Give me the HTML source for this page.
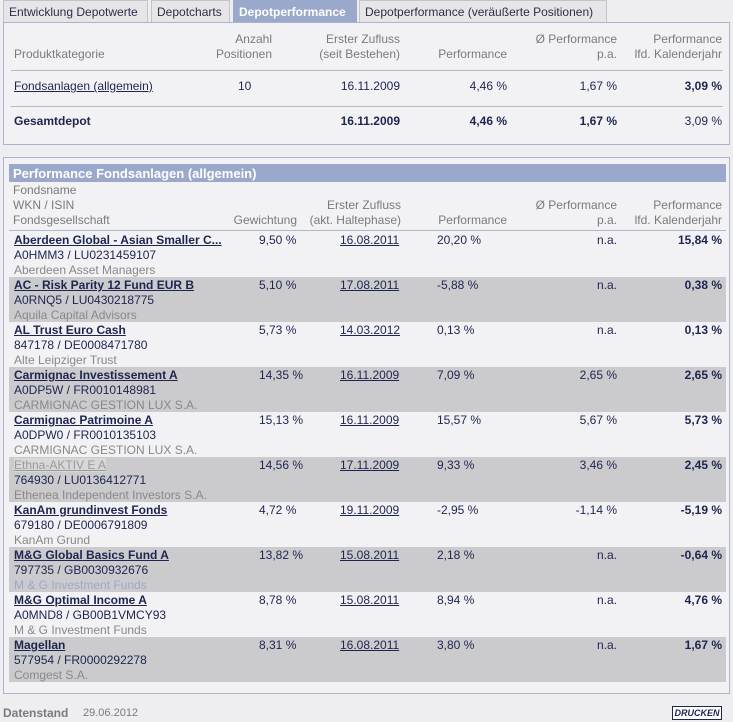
<!DOCTYPE html>
<html><head><meta charset="utf-8"><style>
*{box-sizing:border-box;margin:0;padding:0}
body{width:733px;height:722px;background:#eeeef1;font-family:"Liberation Sans",Arial,sans-serif;font-size:12px;color:#1d2550;position:relative;overflow:hidden}
.tab{position:absolute;top:0;height:22px;border:1px solid #c4c4c8;border-bottom:none;background:#e6e6e8;color:#2b2f45;padding:4px 5px 0;font-size:12px;white-space:nowrap}
.tab.act{background:#9aa8cc;color:#fff;font-weight:bold;border-color:#9aa8cc}
.box{position:absolute;left:3px;width:727px;border:1px solid #a9b4cc;background:#f2f2f4}
.t{position:absolute;white-space:nowrap;line-height:15px}
.h{color:#7a7a7a}
.r{text-align:right}
a{color:#1d2550;text-decoration:underline}
.b{font-weight:bold}
.row{position:absolute;left:9px;width:717px;height:45px}
.g{color:#888}
</style></head><body>
<div class="tab" style="left:3px;width:145px">Entwicklung Depotwerte</div>
<div class="tab" style="left:151px;width:79px">Depotcharts</div>
<div class="tab act" style="left:233px;width:124px">Depotperformance</div>
<div class="tab" style="left:359px;width:248px">Depotperformance (veräußerte Positionen)</div>

<div class="box" style="top:22px;height:123px">
<div class="t h" style="left:10px;top:24px">Produktkategorie</div>
<div class="t h r" style="right:457px;top:9px">Anzahl<br>Positionen</div>
<div class="t h r" style="right:329px;top:9px">Erster Zufluss<br>(seit Bestehen)</div>
<div class="t h r" style="right:222px;top:24px">Performance</div>
<div class="t h r" style="right:112px;top:9px">Ø Performance<br>p.a.</div>
<div class="t h r" style="right:7px;top:9px">Performance<br>lfd. Kalenderjahr</div>
<div style="position:absolute;left:7px;right:6px;top:47px;border-top:1px solid #b0b8cc"></div>
<div class="t" style="left:10px;top:56px"><a>Fondsanlagen (allgemein)</a></div>
<div class="t" style="left:234px;top:56px">10</div>
<div class="t r" style="right:329px;top:56px">16.11.2009</div>
<div class="t r" style="right:222px;top:56px">4,46 %</div>
<div class="t r" style="right:112px;top:56px">1,67 %</div>
<div class="t r b" style="right:7px;top:56px">3,09 %</div>
<div style="position:absolute;left:7px;right:6px;top:83px;border-top:1px solid #b0b8cc"></div>
<div class="t b" style="left:10px;top:91px">Gesamtdepot</div>
<div class="t r b" style="right:329px;top:91px">16.11.2009</div>
<div class="t r b" style="right:222px;top:91px">4,46 %</div>
<div class="t r b" style="right:112px;top:91px">1,67 %</div>
<div class="t r" style="right:7px;top:91px">3,09 %</div>
</div>

<div class="box" style="top:157px;height:537px"></div>
<div style="position:absolute;left:9px;top:164px;width:717px;height:18px;background:#9aa8cc;color:#fff;font-weight:bold;font-size:13px;padding:2px 0 0 4px">Performance Fondsanlagen (allgemein)</div>
<div class="t h" style="left:13px;top:183px">Fondsname<br>WKN / ISIN<br>Fondsgesellschaft</div>
<div class="t h r" style="right:436px;top:213px">Gewichtung</div>
<div class="t h r" style="right:332px;top:198px">Erster Zufluss<br>(akt. Haltephase)</div>
<div class="t h r" style="right:226px;top:213px">Performance</div>
<div class="t h r" style="right:116px;top:198px">Ø Performance<br>p.a.</div>
<div class="t h r" style="right:11px;top:198px">Performance<br>lfd. Kalenderjahr</div>
<div style="position:absolute;left:9px;width:717px;top:230px;border-top:1px solid #b0b8cc"></div>
<div id="rows"></div>

<div class="t b" style="left:3px;top:706px;color:#7a7a7a">Datenstand</div>
<div class="t" style="left:83px;top:706px;color:#7a7a7a;font-size:11px">29.06.2012</div>
<div style="position:absolute;left:672px;top:706px;width:50px;height:14px;border:1px solid #1d2550;background:#fff;font-size:9px;font-weight:bold;font-style:italic;text-align:center;line-height:12px">DRUCKEN</div>

<script>
const names=["Aberdeen Global - Asian Smaller C...","AC - Risk Parity 12 Fund EUR B","AL Trust Euro Cash","Carmignac Investissement A","Carmignac Patrimoine A","Ethna-AKTIV E A","KanAm grundinvest Fonds","M&G Global Basics Fund A","M&G Optimal Income A","Magellan"];
const ids=["A0HMM3 /  LU0231459107","A0RNQ5 /  LU0430218775","847178 /  DE0008471780","A0DP5W /  FR0010148981","A0DPW0 /  FR0010135103","764930 /  LU0136412771","679180 /  DE0006791809","797735 /  GB0030932676","A0MND8 /  GB00B1VMCY93","577954 /  FR0000292278"];
const companies=["Aberdeen Asset Managers","Aquila Capital Advisors","Alte Leipziger Trust","CARMIGNAC GESTION LUX S.A.","CARMIGNAC GESTION LUX S.A.","Ethenea Independent Investors S.A.","KanAm Grund","M & G Investment Funds","M & G Investment Funds","Comgest S.A."];
const weights=["9,50 %","5,10 %","5,73 %","14,35 %","15,13 %","14,56 %","4,72 %","13,82 %","8,78 %","8,31 %"];
const dates=["16.08.2011","17.08.2011","14.03.2012","16.11.2009","16.11.2009","17.11.2009","19.11.2009","15.08.2011","15.08.2011","16.08.2011"];
const perf=["20,20 %","-5,88 %","0,13 %","7,09 %","15,57 %","9,33 %","-2,95 %","2,18 %","8,94 %","3,80 %"];
const perfPa=["n.a.","n.a.","n.a.","2,65 %","5,67 %","3,46 %","-1,14 %","n.a.","n.a.","n.a."];
const perfYear=["15,84 %","0,38 %","0,13 %","2,65 %","5,73 %","2,45 %","-5,19 %","-0,64 %","4,76 %","1,67 %"];
const c=document.getElementById('rows');
names.forEach((n,i)=>{
 const r=document.createElement('div');
 r.className='row';
 
 
 r.style.top=(232+i*45)+'px';
 r.style.background=i%2?'#cbcbcd':'#f2f2f4';
 const nm=i===5?'<a style="color:#9a9a9a;background:#d8d8d8" >'+n+'</a>':'<a class="b">'+n+'</a>';
 r.innerHTML='<div class="t" style="left:5px;top:1px">'+nm+'</div>'+
 '<div class="t" style="left:5px;top:16px">'+ids[i]+'</div>'+
 '<div class="t g" style="left:5px;top:31px;'+(i===7?'color:#9aa8cc':'')+'">'+companies[i]+'</div>'+
 '<div class="t" style="left:250px;top:1px">'+weights[i]+'</div>'+
 '<div class="t" style="left:331px;top:1px"><a>'+dates[i]+'</a></div>'+
 '<div class="t" style="left:428px;top:1px">'+perf[i]+'</div>'+
 '<div class="t r" style="right:109px;top:1px">'+perfPa[i]+'</div>'+
 '<div class="t r b" style="right:4px;top:1px">'+perfYear[i]+'</div>';
 c.appendChild(r);
});
</script>
</body></html>
